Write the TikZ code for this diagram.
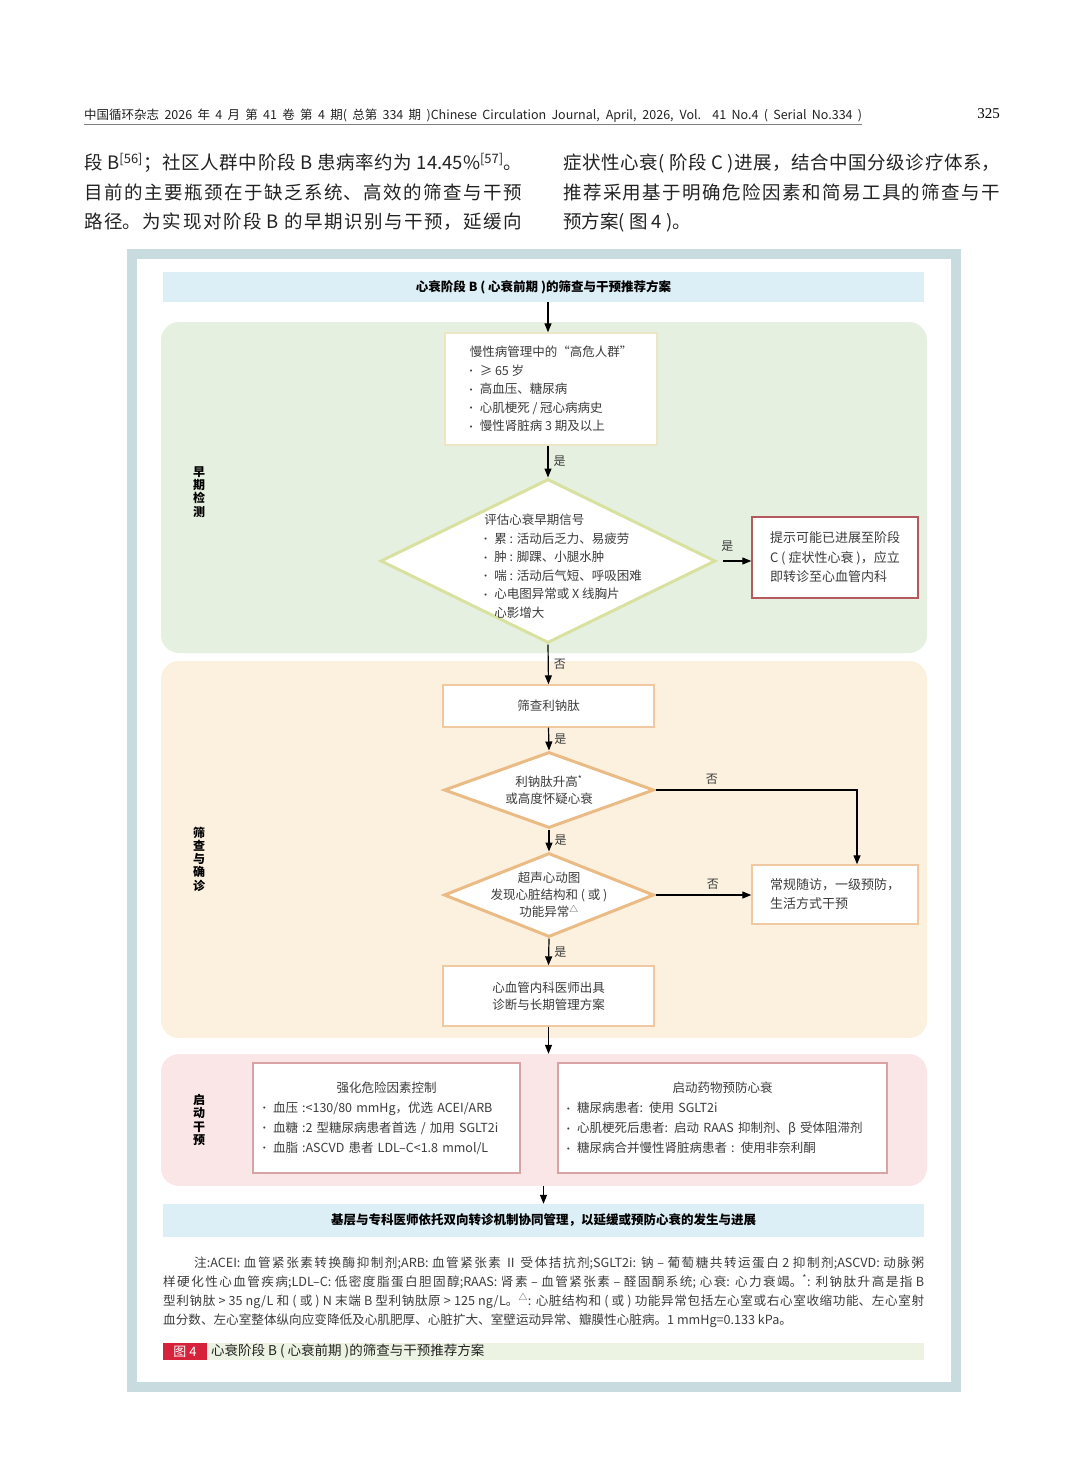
\documentclass[tikz,border=0pt]{standalone}
\usepackage{fontspec}
\setmainfont{Liberation Sans}
\newfontfamily\cjk{Noto Sans CJK SC}
\newfontfamily\serif{Liberation Serif}
\usetikzlibrary{shapes.geometric,arrows.meta}
\XeTeXlinebreaklocale "zh"
\XeTeXlinebreakskip=0pt plus 3pt
\definecolor{framecol}{HTML}{C8DCDF}
\definecolor{barblue}{HTML}{DCEEF6}
\definecolor{greenbg}{HTML}{E6F0E0}
\definecolor{beigebg}{HTML}{FBF1DE}
\definecolor{pinkbg}{HTML}{FBE6E7}
\definecolor{boxyellow}{HTML}{EDE6C4}
\definecolor{diamgreen}{HTML}{D9E1A0}
\definecolor{diamorange}{HTML}{EBBB86}
\definecolor{boxorange}{HTML}{F0C9A0}
\definecolor{boxred}{HTML}{B45A5E}
\definecolor{boxpink}{HTML}{D9A3A6}
\definecolor{capgreen}{HTML}{EDF3E3}
\definecolor{capred}{HTML}{D6223A}
\definecolor{textgray}{HTML}{3C3C3C}
\definecolor{bodyblack}{HTML}{222222}
% one justified line of text
\newcommand{\jline}[2]{\parbox[b]{#1}{\tolerance=9999\hbadness=10000\parfillskip=0pt\relax #2}}
% small bullet
\newcommand{\bul}{\makebox[0.8em][l]{\raisebox{0.12em}{\rmfamily\fontsize{7.5}{8}\selectfont •}}}
\begin{document}
\begin{tikzpicture}[x=1pt,y=-1pt,
		txt/.style={font=\cjk\fontsize{12.5}{18.5}\selectfont, text=textgray},
		para/.style={anchor=base west, inner sep=0pt, text=bodyblack, font=\cjk\fontsize{18.5}{22}\selectfont},
		note/.style={anchor=base west, inner sep=0pt, text=textgray, font=\cjk\fontsize{12.6}{19}\selectfont},
		plainbox/.style={draw=#1, line width=1.4pt, fill=white, inner sep=0pt, txt},
		decision/.style={diamond, draw=#1, line width=3pt, fill=white, inner sep=0pt},
		zone/.style={rounded corners=18pt, inner sep=0pt, minimum width=766pt},
		zonelab/.style={font=\cjk\bfseries\fontsize{12}{13.2}\selectfont, align=center, text=black},
		bandbox/.style={fill=barblue, minimum width=761pt, inner sep=0pt, text=black, font=\cjk\bfseries\fontsize{12.5}{15}\selectfont},
		arr/.style={-{Triangle[length=9pt,width=7pt]}, line width=1.2pt},
		yn/.style={font=\cjk\fontsize{12}{14}\selectfont, text=textgray, inner sep=5pt}]
	\useasboundingbox (0,0) rectangle (1080,1482);
	% Page head
	\node[anchor=base west, inner sep=0pt, text=bodyblack, font=\cjk\fontsize{12.5}{15}\selectfont] (head) at (84,120)
		{\makebox[778pt][s]{中国循环杂志 2026 年 4 月 第 41 卷 第 4 期( 总第 334 期 )Chinese Circulation Journal, April, 2026, Vol. 41 No.4 ( Serial No.334 )}};
	\draw[line width=0.8pt, gray] ([yshift=-1pt]head.south west) -- ([yshift=-1pt]head.south east);
	\node[anchor=base east, inner sep=0pt, font=\serif\fontsize{15}{18}\selectfont] (page) at (1000,119) {325};
	% Body text
	\node[para] (l1) at (84,170) {\jline{438pt}{段 B\textsuperscript{[56]}；社区人群中阶段 B 患病率约为 14.45\%\textsuperscript{[57]}。}};
	\node[para] (l2) at (84,200) {\jline{438pt}{目前的主要瓶颈在于缺乏系统、高效的筛查与干预}};
	\node[para] (l3) at (84,228) {\jline{438pt}{路径。为实现对阶段 B 的早期识别与干预，延缓向}};
	\node[para] (r1) at (563,170) {\jline{437pt}{症状性心衰( 阶段 C )进展，结合中国分级诊疗体系，}};
	\node[para] (r2) at (563,200) {\jline{437pt}{推荐采用基于明确危险因素和简易工具的筛查与干}};
	\node[para] (r3) at (563,228) {预方案( 图 4 )。};
	% Frame
	\draw[line width=10pt, framecol] (132,254) rectangle (956,1387);
	% Bands
	\node[bandbox, minimum height=30pt] (ttl) at (543.5,287) {心衰阶段 B ( 心衰前期 )的筛查与干预推荐方案};
	\node[zone, fill=greenbg, minimum height=331pt] (zone1) at (544,487.5) {};
	\node[zone, fill=beigebg, minimum height=377pt] (zone2) at (544,849.5) {};
	\node[zone, fill=pinkbg, minimum height=132pt] (zone3) at (544,1120) {};
	\node[zonelab] (lab1) at (199,492) {早\\期\\检\\测};
	\node[zonelab] (lab2) at (199,859) {筛\\查\\与\\确\\诊};
	\node[zonelab] (lab3) at (199,1120) {启\\动\\干\\预};
	% Early detection
	\node[plainbox=boxyellow, minimum width=212pt, minimum height=112pt, align=left] (risk) at (551,389)
		{慢性病管理中的“高危人群”\\\bul ≥ 65 岁\\\bul 高血压、糖尿病\\\bul 心肌梗死 / 冠心病病史\\\bul 慢性肾脏病 3 期及以上};
	\node[decision=diamgreen, minimum width=335pt, minimum height=164pt,
		label={[txt, align=left, xshift=15pt, yshift=-5pt]center:{评估心衰早期信号\\\bul 累 : 活动后乏力、易疲劳\\\bul 肿 : 脚踝、小腿水肿\\\bul 喘 : 活动后气短、呼吸困难\\\bul 心电图异常或 X 线胸片\\\hspace*{0.8em}心影增大}}] (signs) at (548,561) {};
	\node[plainbox=boxred, minimum width=166pt, minimum height=81pt, align=left, font=\cjk\fontsize{13}{19.5}\selectfont] (stageC) at (835,557.5)
		{提示可能已进展至阶段\\C ( 症状性心衰 )，应立\\即转诊至心血管内科};
	% Screening and diagnosis
	\node[plainbox=boxorange, minimum width=211pt, minimum height=42pt] (natri) at (548.5,706) {筛查利钠肽};
	\node[decision=diamorange, minimum width=210pt, minimum height=76pt,
		label={[txt, align=center, font=\cjk\fontsize{12.5}{17}\selectfont]center:{利钠肽升高\textsuperscript{*}\\或高度怀疑心衰}}] (bnp) at (549,790) {};
	\node[decision=diamorange, minimum width=210pt, minimum height=84pt,
		label={[txt, align=center, font=\cjk\fontsize{12.5}{17}\selectfont]center:{超声心动图\\发现心脏结构和 ( 或 )\\功能异常\textsuperscript{△}}}] (echo) at (549,895) {};
	\node[plainbox=boxorange, minimum width=166pt, minimum height=59pt, align=left, font=\cjk\fontsize{13}{19}\selectfont] (follow) at (835,894.5)
		{常规随访，一级预防，\\生活方式干预};
	\node[plainbox=boxorange, minimum width=211pt, minimum height=60pt, align=center, font=\cjk\fontsize{12.5}{17}\selectfont] (cardio) at (548.5,996)
		{心血管内科医师出具\\诊断与长期管理方案};
	% Intervention
	\node[plainbox=boxpink, minimum width=267pt, minimum height=110pt, text width=247pt, align=left, font=\cjk\fontsize{12.5}{20}\selectfont] (ctrl) at (386.5,1118)
		{\makebox[\linewidth]{强化危险因素控制}\\\bul 血压 :<130/80 mmHg，优选 ACEI/ARB\\\bul 血糖 :2 型糖尿病患者首选 / 加用 SGLT2i\\\bul 血脂 :ASCVD 患者 LDL–C<1.8 mmol/L};
	\node[plainbox=boxpink, minimum width=329pt, minimum height=110pt, text width=311pt, align=left, font=\cjk\fontsize{12.5}{20}\selectfont] (drug) at (722.5,1118)
		{\makebox[\linewidth]{启动药物预防心衰}\\\bul 糖尿病患者: 使用 SGLT2i\\\bul 心肌梗死后患者: 启动 RAAS 抑制剂、β 受体阻滞剂\\\bul 糖尿病合并慢性肾脏病患者 : 使用非奈利酮};
	\node[bandbox, minimum height=33pt] (goal) at (543.5,1220.5) {基层与专科医师依托双向转诊机制协同管理，以延缓或预防心衰的发生与进展};
	% Arrows
	\draw[arr] (ttl.south -| signs.north) -- (signs.north |- risk.north);
	\draw[arr] (signs.north |- risk.south) -- (signs.north) node[yn, midway, right] {是};
	\draw[arr, shorten <=6pt] (signs.east) -- (signs.east -| stageC.west) node[yn, pos=0.3, above=4pt] {是};
	\draw[arr] (signs.south) -- (natri.north) node[yn, midway, right] {否};
	\draw[arr] (natri.south) -- (bnp.north) node[yn, midway, right] {是};
	\draw[arr] (bnp.south) -- (echo.north) node[yn, midway, right] {是};
	\draw[arr] (echo.south) -- (cardio.north) node[yn, midway, right] {是};
	\draw[arr] (bnp.east) -| ([xshift=22pt]follow.north) node[yn, pos=0.14, above] {否};
	\draw[arr] (echo.east) -- (echo.east -| follow.west) node[yn, pos=0.6, above] {否};
	\draw[arr] (cardio.south) -- (cardio.south |- zone3.north);
	\draw[arr] (goal.north |- zone3.south) -- (goal.north);
	% Notes
	\node[note] (n1) at (194,1267) {\jline{730pt}{注:ACEI: 血管紧张素转换酶抑制剂;ARB: 血管紧张素 Ⅱ 受体拮抗剂;SGLT2i: 钠 – 葡萄糖共转运蛋白 2 抑制剂;ASCVD: 动脉粥}};
	\node[note] (n2) at (163,1286) {\jline{761pt}{样硬化性心血管疾病;LDL–C: 低密度脂蛋白胆固醇;RAAS: 肾素 – 血管紧张素 – 醛固酮系统; 心衰: 心力衰竭。\textsuperscript{*}: 利钠肽升高是指 B}};
	\node[note] (n3) at (163,1305) {\jline{761pt}{型利钠肽 > 35 ng/L 和 ( 或 ) N 末端 B 型利钠肽原 > 125 ng/L。\textsuperscript{△}: 心脏结构和 ( 或 ) 功能异常包括左心室或右心室收缩功能、左心室射}};
	\node[note] (n4) at (163,1324) {血分数、左心室整体纵向应变降低及心肌肥厚、心脏扩大、室壁运动异常、瓣膜性心脏病。1 mmHg=0.133 kPa。};
	% Caption
	\node[fill=capgreen, minimum width=761pt, minimum height=17pt, inner sep=0pt] (capbar) at (543.5,1351.5) {};
	\node[fill=capred, text=white, minimum width=44pt, minimum height=17pt, inner sep=0pt, font=\cjk\fontsize{13}{15}\selectfont] (fig) at (185,1351.5) {图 4};
	\node[anchor=west, inner sep=0pt, text=bodyblack, font=\cjk\fontsize{13.5}{16}\selectfont] (cap) at (211,1351.5) {心衰阶段 B ( 心衰前期 )的筛查与干预推荐方案};
\end{tikzpicture}
\end{document}
